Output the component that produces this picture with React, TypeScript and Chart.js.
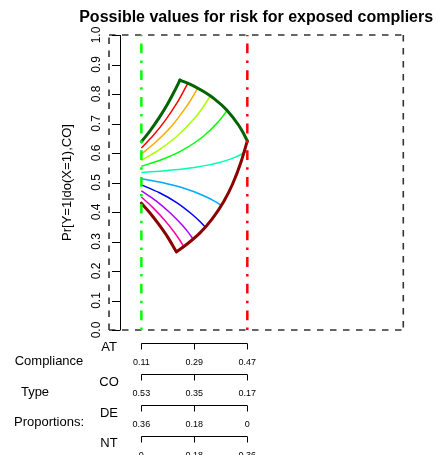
import React, { useEffect, useRef } from 'react';
import { Chart, registerables } from 'chart.js';

Chart.register(...registerables);

// ---------- text ----------
const titleText = 'Possible values for risk for exposed compliers';
const yTitle = 'Pr[Y=1|do(X=1),CO]';
const yTicks = [0, 0.1, 0.2, 0.3, 0.4, 0.5, 0.6, 0.7, 0.8, 0.9, 1.0];
const yTickLabels = ['0.0', '0.1', '0.2', '0.3', '0.4', '0.5', '0.6', '0.7', '0.8', '0.9', '1.0'];

// ---------- compliance type proportion axes ----------
const atBounds = [0.11, 0.47];
const bracketTicks = [0.11, 0.29, 0.47];
const typeNames = ['AT', 'CO', 'DE', 'NT'];
const atLabels = ['0.11', '0.29', '0.47'];
const coLabels = ['0.53', '0.35', '0.17'];
const deLabels = ['0.36', '0.18', '0'];
const ntLabels = ['0', '0.18', '0.36'];
const sideLabels = ['Compliance', 'Type', 'Proportions:'];

// ---------- boundary curves (x = AT proportion, y = risk) ----------
const upperLeft = [[0.11, 0.638], [0.14, 0.676], [0.17, 0.719], [0.20, 0.768], [0.22, 0.805], [0.241, 0.847]];
const upperRight = [[0.241, 0.847], [0.28, 0.831], [0.32, 0.809], [0.36, 0.782], [0.40, 0.746], [0.44, 0.695], [0.455, 0.670], [0.47, 0.641]];
const lowerLeft = [[0.11, 0.430], [0.14, 0.396], [0.17, 0.357], [0.20, 0.314], [0.229, 0.265]];
const lowerRight = [[0.229, 0.265], [0.27, 0.295], [0.31, 0.330], [0.35, 0.376], [0.39, 0.436], [0.42, 0.495], [0.45, 0.574], [0.47, 0.641]];

// ---------- inner curves ----------
const curve1 = [[0.11, 0.617], [0.15, 0.659], [0.19, 0.709], [0.23, 0.768], [0.25, 0.803], [0.268, 0.837]];
const curve2 = [[0.11, 0.596], [0.16, 0.638], [0.21, 0.688], [0.26, 0.753], [0.28, 0.783], [0.301, 0.819]];
const curve3 = [[0.11, 0.575], [0.17, 0.611], [0.23, 0.656], [0.29, 0.717], [0.32, 0.756], [0.344, 0.793]];
const curve4 = [[0.11, 0.555], [0.18, 0.578], [0.25, 0.610], [0.32, 0.656], [0.37, 0.704], [0.402, 0.745]];
const curve5 = [[0.11, 0.534], [0.20, 0.541], [0.29, 0.551], [0.38, 0.569], [0.43, 0.586], [0.47, 0.606]];
const curve6 = [[0.11, 0.513], [0.18, 0.500], [0.25, 0.482], [0.32, 0.456], [0.36, 0.436], [0.382, 0.422]];
const curve7 = [[0.11, 0.492], [0.17, 0.466], [0.23, 0.432], [0.28, 0.394], [0.31, 0.367], [0.327, 0.349]];
const curve8 = [[0.11, 0.472], [0.16, 0.438], [0.21, 0.395], [0.25, 0.354], [0.27, 0.330], [0.286, 0.308]];
const curve9 = [[0.11, 0.451], [0.15, 0.414], [0.19, 0.371], [0.225, 0.327], [0.24, 0.305], [0.254, 0.283]];
const innerCurves = [curve1, curve2, curve3, curve4, curve5, curve6, curve7, curve8, curve9];
const curveColors = ['#FF0000', '#FFAA00', '#AAFF00', '#00FF00', '#00FFAA', '#00AAFF', '#0000FF', '#AA00FF', '#FF00AA'];

const FONT = '"Liberation Sans", Arial, Helvetica, sans-serif';

const toPts = (arr: number[][]) => arr.map(([x, y]) => ({ x, y }));

const decorPlugin = {
  id: 'decor',
  beforeDatasetsDraw(chart: any) {
    const { ctx } = chart;
    const xs = chart.scales.x;
    const ys = chart.scales.y;
    const l = xs.getPixelForValue(0), r = xs.getPixelForValue(1);
    const t = ys.getPixelForValue(1), b = ys.getPixelForValue(0);
    ctx.save();
    ctx.strokeStyle = '#333333';
    ctx.lineWidth = 1.6;
    ctx.setLineDash([6.5, 6.5]);
    ctx.beginPath(); ctx.moveTo(l, t); ctx.lineTo(r, t); ctx.stroke();
    ctx.beginPath(); ctx.moveTo(r, t); ctx.lineTo(r, b); ctx.stroke();
    ctx.beginPath(); ctx.moveTo(l, b); ctx.lineTo(r, b); ctx.stroke();
    ctx.beginPath(); ctx.moveTo(l, b); ctx.lineTo(l, t); ctx.stroke();
    ctx.restore();
  },
  afterDatasetsDraw(chart: any) {
    const { ctx } = chart;
    const xs = chart.scales.x;
    const ys = chart.scales.y;
    const area = chart.chartArea;
    ctx.save();
    ctx.setLineDash([]);
    ctx.fillStyle = '#000';
    ctx.strokeStyle = '#000';

    // title
    ctx.font = `bold 16px ${FONT}`;
    ctx.textAlign = 'center';
    ctx.textBaseline = 'alphabetic';
    ctx.fillText(titleText, (area.left + area.right) / 2, 21.5);

    // y axis
    const axX = area.left + 11;
    ctx.lineWidth = 1;
    ctx.beginPath();
    ctx.moveTo(axX + 0.5, ys.getPixelForValue(yTicks[0]));
    ctx.lineTo(axX + 0.5, ys.getPixelForValue(yTicks[yTicks.length - 1]));
    ctx.stroke();
    ctx.font = `12px ${FONT}`;
    yTicks.forEach((v, i) => {
      const py = Math.round(ys.getPixelForValue(v)) + 0.5;
      ctx.beginPath();
      ctx.moveTo(axX + 0.5, py);
      ctx.lineTo(axX - 8, py);
      ctx.stroke();
      ctx.save();
      ctx.translate(97, ys.getPixelForValue(v));
      ctx.rotate(-Math.PI / 2);
      ctx.textAlign = 'center';
      ctx.textBaseline = 'middle';
      ctx.fillText(yTickLabels[i], 0, 0);
      ctx.restore();
    });
    ctx.font = `13px ${FONT}`;
    ctx.save();
    ctx.translate(67, (area.top + area.bottom) / 2);
    ctx.rotate(-Math.PI / 2);
    ctx.textAlign = 'center';
    ctx.textBaseline = 'middle';
    ctx.fillText(yTitle, 0, 0);
    ctx.restore();

    // compliance-type proportion axes
    const rowLabels = [atLabels, coLabels, deLabels, ntLabels];
    const lineOffsets = [13, 44, 75, 106];
    const nameCenters = [347, 382, 413, 443];
    const x0 = xs.getPixelForValue(atBounds[0]);
    const x1 = xs.getPixelForValue(atBounds[1]);
    rowLabels.forEach((labels, k) => {
      const ly = Math.round(area.bottom + lineOffsets[k]) + 0.5;
      ctx.lineWidth = 1;
      ctx.beginPath();
      ctx.moveTo(x0, ly);
      ctx.lineTo(x1, ly);
      ctx.stroke();
      bracketTicks.forEach((tv, j) => {
        const px = Math.round(xs.getPixelForValue(tv)) + 0.5;
        ctx.beginPath();
        ctx.moveTo(px, ly);
        ctx.lineTo(px, ly + 6);
        ctx.stroke();
        ctx.font = `9px ${FONT}`;
        ctx.textAlign = 'center';
        ctx.textBaseline = 'middle';
        ctx.fillText(labels[j], xs.getPixelForValue(tv), ly + 19);
      });
      ctx.font = `13px ${FONT}`;
      ctx.textAlign = 'center';
      ctx.textBaseline = 'middle';
      ctx.fillText(typeNames[k], 109, nameCenters[k]);
    });
    ctx.font = `13px ${FONT}`;
    ctx.textAlign = 'center';
    ctx.textBaseline = 'middle';
    ctx.fillText(sideLabels[0], 49, 361);
    ctx.fillText(sideLabels[1], 35, 392);
    ctx.fillText(sideLabels[2], 49, 422);
    ctx.restore();
  },
};

export default function App() {
  const ref = useRef<HTMLCanvasElement>(null);
  useEffect(() => {
    document.body.style.margin = '0';
    const dotDash = [2.5, 7.2, 9.8, 7.2];
    const datasets: any[] = [
      {
        data: [{ x: atBounds[0], y: 0 }, { x: atBounds[0], y: 1 }],
        borderColor: '#00FF00', borderWidth: 2.5, borderDash: dotDash, order: 0, tension: 0,
      },
      {
        data: [{ x: atBounds[1], y: 0 }, { x: atBounds[1], y: 1 }],
        borderColor: '#FF0000', borderWidth: 2.5, borderDash: dotDash, order: 0, tension: 0,
      },
      ...[upperLeft, upperRight].map((d) => ({
        data: toPts(d), borderColor: '#006400', borderWidth: 3, order: 1,
        cubicInterpolationMode: 'monotone', borderCapStyle: 'round', borderJoinStyle: 'round',
      })),
      ...[lowerLeft, lowerRight].map((d) => ({
        data: toPts(d), borderColor: '#8B0000', borderWidth: 3, order: 1,
        cubicInterpolationMode: 'monotone', borderCapStyle: 'round', borderJoinStyle: 'round',
      })),
      ...innerCurves.map((d, i) => ({
        data: toPts(d), borderColor: curveColors[i], borderWidth: 1.5, order: 2,
        cubicInterpolationMode: 'monotone',
      })),
    ];
    datasets.forEach((ds) => { ds.showLine = true; ds.pointRadius = 0; ds.fill = false; });
    const chart = new Chart(ref.current!, {
      type: 'scatter',
      data: { datasets },
      options: {
        animation: false,
        responsive: false,
        devicePixelRatio: 1,
        events: [],
        layout: { padding: { left: 109, right: 33.7, top: 35, bottom: 125 } },
        scales: {
          x: { type: 'linear', min: 0, max: 1, display: false },
          y: { type: 'linear', min: 0, max: 1, display: false },
        },
        plugins: { legend: { display: false }, tooltip: { enabled: false }, title: { display: false } },
      } as any,
      plugins: [decorPlugin],
    });
    return () => chart.destroy();
  }, []);
  return (
    <div style={{ width: 437, height: 455, position: 'relative' }}>
      <canvas ref={ref} width={437} height={455} style={{ display: 'block' }} />
    </div>
  );
}
